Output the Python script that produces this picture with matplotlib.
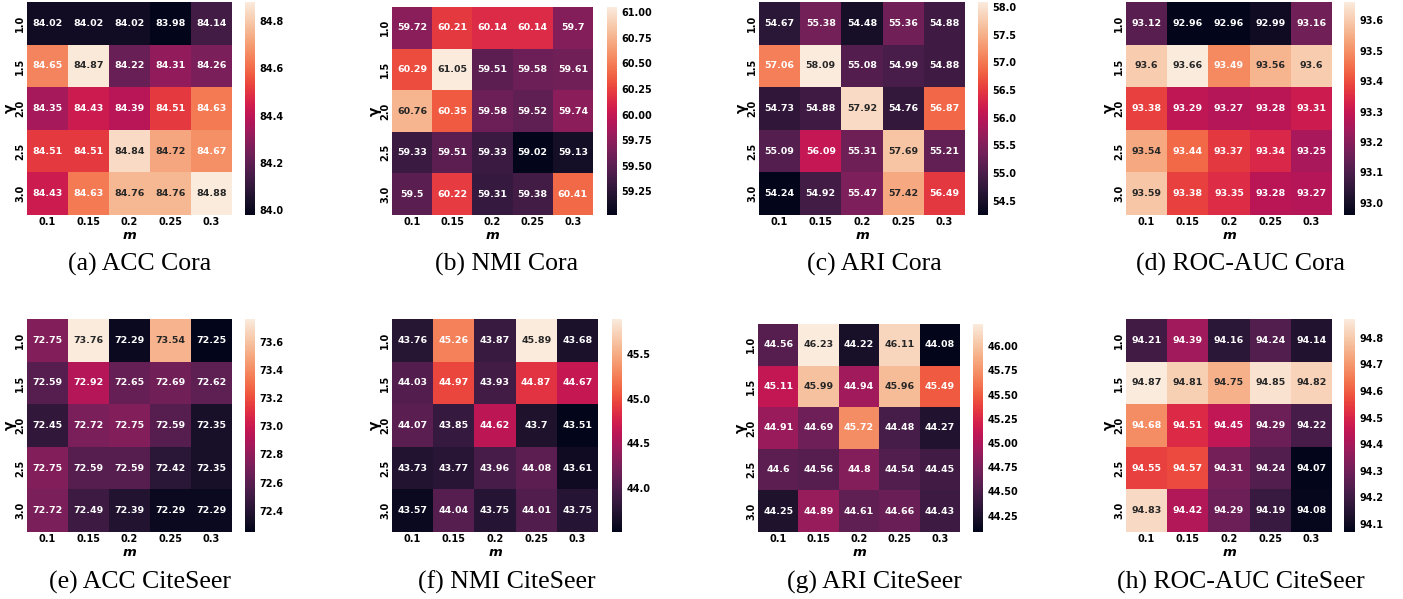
import matplotlib
matplotlib.use("Agg")
import matplotlib.pyplot as plt
from matplotlib.ticker import MultipleLocator
import numpy as np
import seaborn as sns

m_labels = ["0.1", "0.15", "0.2", "0.25", "0.3"]
gamma_labels = ["1.0", "1.5", "2.0", "2.5", "3.0"]

acc_cora = [[84.02, 84.02, 84.02, 83.98, 84.14],
            [84.65, 84.87, 84.22, 84.31, 84.26],
            [84.35, 84.43, 84.39, 84.51, 84.63],
            [84.51, 84.51, 84.84, 84.72, 84.67],
            [84.43, 84.63, 84.76, 84.76, 84.88]]
nmi_cora = [[59.72, 60.21, 60.14, 60.14, 59.70],
            [60.29, 61.05, 59.51, 59.58, 59.61],
            [60.76, 60.35, 59.58, 59.52, 59.74],
            [59.33, 59.51, 59.33, 59.02, 59.13],
            [59.50, 60.22, 59.31, 59.38, 60.41]]
ari_cora = [[54.67, 55.38, 54.48, 55.36, 54.88],
            [57.06, 58.09, 55.08, 54.99, 54.88],
            [54.73, 54.88, 57.92, 54.76, 56.87],
            [55.09, 56.09, 55.31, 57.69, 55.21],
            [54.24, 54.92, 55.47, 57.42, 56.49]]
auc_cora = [[93.12, 92.96, 92.96, 92.99, 93.16],
            [93.60, 93.66, 93.49, 93.56, 93.60],
            [93.38, 93.29, 93.27, 93.28, 93.31],
            [93.54, 93.44, 93.37, 93.34, 93.25],
            [93.59, 93.38, 93.35, 93.28, 93.27]]
acc_cite = [[72.75, 73.76, 72.29, 73.54, 72.25],
            [72.59, 72.92, 72.65, 72.69, 72.62],
            [72.45, 72.72, 72.75, 72.59, 72.35],
            [72.75, 72.59, 72.59, 72.42, 72.35],
            [72.72, 72.49, 72.39, 72.29, 72.29]]
nmi_cite = [[43.76, 45.26, 43.87, 45.89, 43.68],
            [44.03, 44.97, 43.93, 44.87, 44.67],
            [44.07, 43.85, 44.62, 43.70, 43.51],
            [43.73, 43.77, 43.96, 44.08, 43.61],
            [43.57, 44.04, 43.75, 44.01, 43.75]]
ari_cite = [[44.56, 46.23, 44.22, 46.11, 44.08],
            [45.11, 45.99, 44.94, 45.96, 45.49],
            [44.91, 44.69, 45.72, 44.48, 44.27],
            [44.60, 44.56, 44.80, 44.54, 44.45],
            [44.25, 44.89, 44.61, 44.66, 44.43]]
auc_cite = [[94.21, 94.39, 94.16, 94.24, 94.14],
            [94.87, 94.81, 94.75, 94.85, 94.82],
            [94.68, 94.51, 94.45, 94.29, 94.22],
            [94.55, 94.57, 94.31, 94.24, 94.07],
            [94.83, 94.42, 94.29, 94.19, 94.08]]

captions = ["(a) ACC Cora", "(b) NMI Cora", "(c) ARI Cora", "(d) ROC-AUC Cora",
            "(e) ACC CiteSeer", "(f) NMI CiteSeer", "(g) ARI CiteSeer", "(h) ROC-AUC CiteSeer"]
grids = [acc_cora, nmi_cora, ari_cora, auc_cora, acc_cite, nmi_cite, ari_cite, auc_cite]
cbar_steps = [0.2, 0.25, 0.5, 0.1, 0.2, 0.5, 0.25, 0.1]

W, H = 1403, 599
# pixel boxes: heatmap x0, x1, y0, y1 and colorbar x0, x1
boxes = [(27, 232, 2, 215, 245, 255), (392, 593, 7, 215, 607, 617),
         (759, 965, 2, 215, 978, 988), (1126, 1332, 2, 215, 1344, 1355),
         (27, 232, 319, 532, 245, 255), (392, 598, 319, 532, 612, 622),
         (758, 960, 324, 532, 973, 983), (1126, 1332, 319, 532, 1344, 1355)]
cap_x = [140, 507, 874, 1241]
cap_y = [264, 582]


def px(x0, x1, y0, y1):
    return [x0 / W, 1 - y1 / H, (x1 - x0) / W, (y1 - y0) / H]


fig = plt.figure(figsize=(W / 100, H / 100), dpi=100, facecolor="white")
for i, (grid, cap, b) in enumerate(zip(grids, captions, boxes)):
    ax = fig.add_axes(px(b[0], b[1], b[2], b[3]))
    cax = fig.add_axes(px(b[4], b[5], b[2], b[3]))
    sns.heatmap(np.array(grid), ax=ax, cbar_ax=cax, cmap="rocket", annot=True, fmt="g",
                annot_kws={"fontsize": 6.8, "fontweight": "bold"},
                xticklabels=m_labels, yticklabels=gamma_labels)
    ax.tick_params(length=0, labelsize=7, pad=1.5)
    for t in ax.get_xticklabels():
        t.set_fontweight("bold"); t.set_rotation(0)
    for t in ax.get_yticklabels():
        t.set_fontweight("bold"); t.set_rotation(90); t.set_va("center")
    ax.set_xlabel("m", fontsize=9.5, fontweight="bold", fontstyle="italic", labelpad=1.5)
    ax.set_ylabel("γ", fontsize=10, fontweight="bold", labelpad=-1)
    cax.yaxis.set_major_locator(MultipleLocator(cbar_steps[i]))
    cax.tick_params(length=0, labelsize=7, pad=3)
    for t in cax.get_yticklabels():
        t.set_fontweight("bold")
    fig.text(cap_x[i % 4] / W, 1 - cap_y[i // 4] / H, cap, ha="center", va="center",
             fontsize=18.5, family="Liberation Serif")

fig.savefig("out.png", dpi=100)
